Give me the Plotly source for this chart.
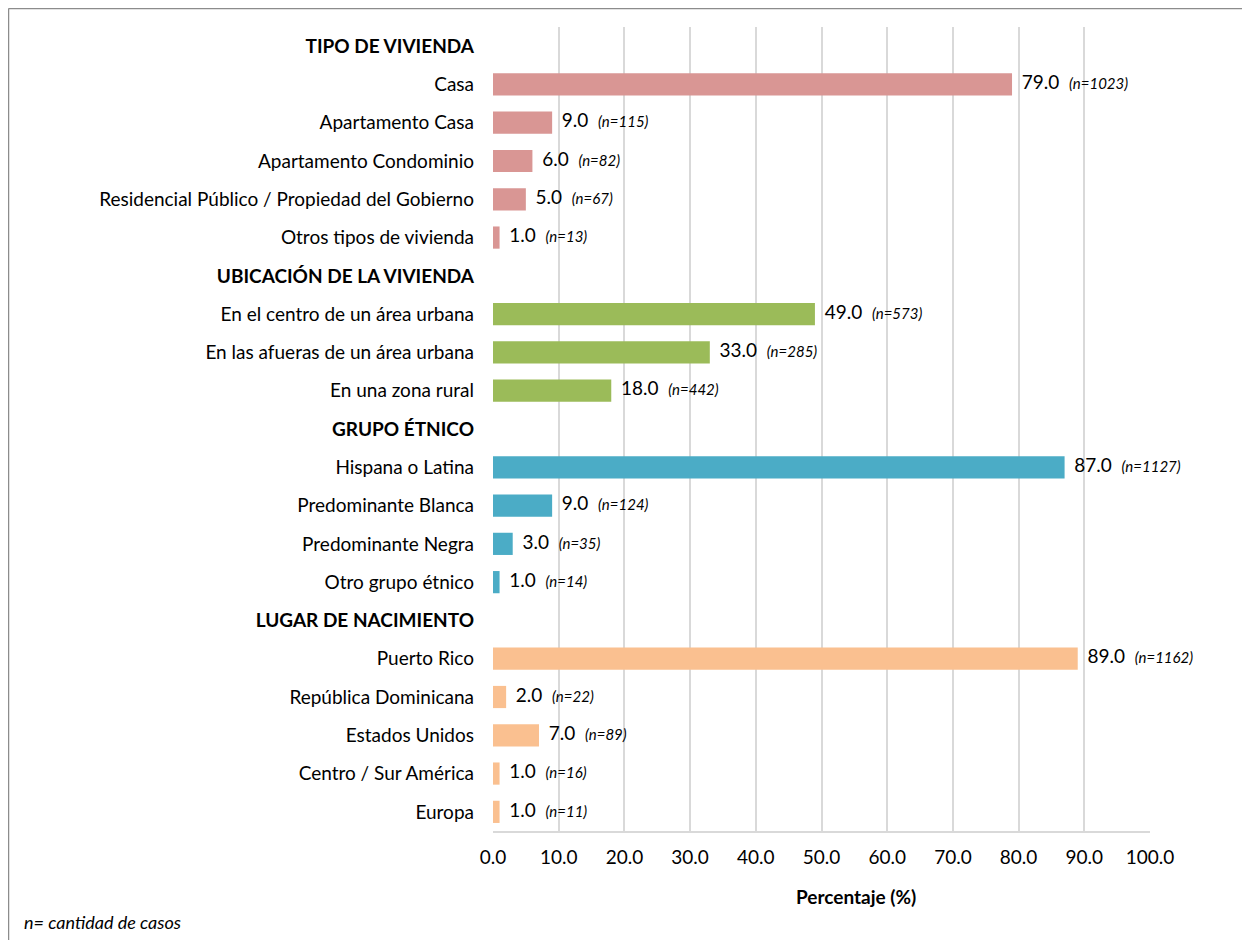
import plotly.graph_objects as go

# ---- data ----
groups = ["TIPO DE VIVIENDA", "UBICACIÓN DE LA VIVIENDA", "GRUPO ÉTNICO", "LUGAR DE NACIMIENTO"]
cat_vivienda = ["Casa", "Apartamento Casa", "Apartamento Condominio",
                "Residencial Público / Propiedad del Gobierno", "Otros tipos de vivienda"]
val_vivienda = [79.0, 9.0, 6.0, 5.0, 1.0]
n_vivienda = [1023, 115, 82, 67, 13]

cat_ubicacion = ["En el centro de un área urbana", "En las afueras de un área urbana", "En una zona rural"]
val_ubicacion = [49.0, 33.0, 18.0]
n_ubicacion = [573, 285, 442]

cat_etnico = ["Hispana o Latina", "Predominante Blanca", "Predominante Negra", "Otro grupo étnico"]
val_etnico = [87.0, 9.0, 3.0, 1.0]
n_etnico = [1127, 124, 35, 14]

cat_nacimiento = ["Puerto Rico", "República Dominicana", "Estados Unidos", "Centro / Sur América", "Europa"]
val_nacimiento = [89.0, 2.0, 7.0, 1.0, 1.0]
n_nacimiento = [1162, 22, 89, 16, 11]

x_ticks = [0, 10, 20, 30, 40, 50, 60, 70, 80, 90, 100]

colors = ["#D99694", "#9BBB59", "#4BACC6", "#FAC090"]

series = [
    (cat_vivienda, val_vivienda, n_vivienda),
    (cat_ubicacion, val_ubicacion, n_ubicacion),
    (cat_etnico, val_etnico, n_etnico),
    (cat_nacimiento, val_nacimiento, n_nacimiento),
]

FONT = "Lato"
FS = 19

fig = go.Figure()
tickvals, ticktext = [], []
row = 0
for g, (cats, vals, ns), col in zip(groups, series, colors):
    tickvals.append(row)
    ticktext.append(f"<b>{g}</b>")
    row += 1
    ys = list(range(row, row + len(cats)))
    for c in cats:
        tickvals.append(row)
        ticktext.append(c)
        row += 1
    fig.add_trace(go.Bar(x=vals, y=ys, orientation="h", marker=dict(color=col, line=dict(width=0)),
                         width=0.58, showlegend=False, hoverinfo="skip"))
    fig.add_trace(go.Scatter(
        x=vals, y=ys, mode="text", textposition="middle right",
        text=[f"  {v:.1f}  <i><span style='font-size:15px'>(n={n})</span></i>" for v, n in zip(vals, ns)],
        textfont=dict(family=FONT, size=FS, color="#000000"),
        showlegend=False, hoverinfo="skip", cliponaxis=False))

# page body offset of 8px: figure coords = screen coords - 8
OFF = 8
L, R, T, B = 493 - OFF, 1150 - OFF, 27 - OFF, 831 - OFF
W, H = 1250, 940


def px(x):
    return (x - OFF - L) / (R - L)


def py(y):
    return (B - (y - OFF)) / (B - T)


fig.update_layout(
    width=W, height=H,
    margin=dict(l=L, r=W - R, t=T, b=H - B),
    paper_bgcolor="white", plot_bgcolor="white",
    font=dict(family=FONT, size=FS, color="#000000"),
    xaxis=dict(range=[0, 100], tickvals=x_ticks, ticktext=[f"{t:.1f}" for t in x_ticks],
               showgrid=True, gridcolor="#D9D9D9", gridwidth=1.5,
               showline=True, linecolor="#D9D9D9", linewidth=1.5,
               zeroline=False, ticks="", ticklabelstandoff=8,
               tickfont=dict(family=FONT, size=FS, color="#000000"), fixedrange=True),
    yaxis=dict(tickvals=tickvals, ticktext=ticktext, range=[row - 0.5, -0.5],
               showgrid=False, zeroline=False, showline=False, ticks="",
               ticklabelstandoff=18,
               tickfont=dict(family=FONT, size=FS, color="#000000"), fixedrange=True),
    shapes=[
        dict(type="line", xref="paper", yref="paper", x0=px(8.5), x1=px(1262), y0=py(8.5), y1=py(8.5),
             line=dict(color="#8C8C8C", width=1.5)),
        dict(type="line", xref="paper", yref="paper", x0=px(8.5), x1=px(8.5), y0=py(8.5), y1=py(952),
             line=dict(color="#8C8C8C", width=1.5)),
    ],
    annotations=[
        dict(text="<b>Percentaje (%)</b>", xref="paper", yref="paper", x=px(856), y=py(897),
             showarrow=False, font=dict(family=FONT, size=19), xanchor="center", yanchor="middle"),
        dict(text="<i>n= cantidad de casos</i>", xref="paper", yref="paper", x=px(22), y=py(922),
             showarrow=False, font=dict(family=FONT, size=18), xanchor="left", yanchor="middle"),
    ],
)

fig.write_html("out.html")
